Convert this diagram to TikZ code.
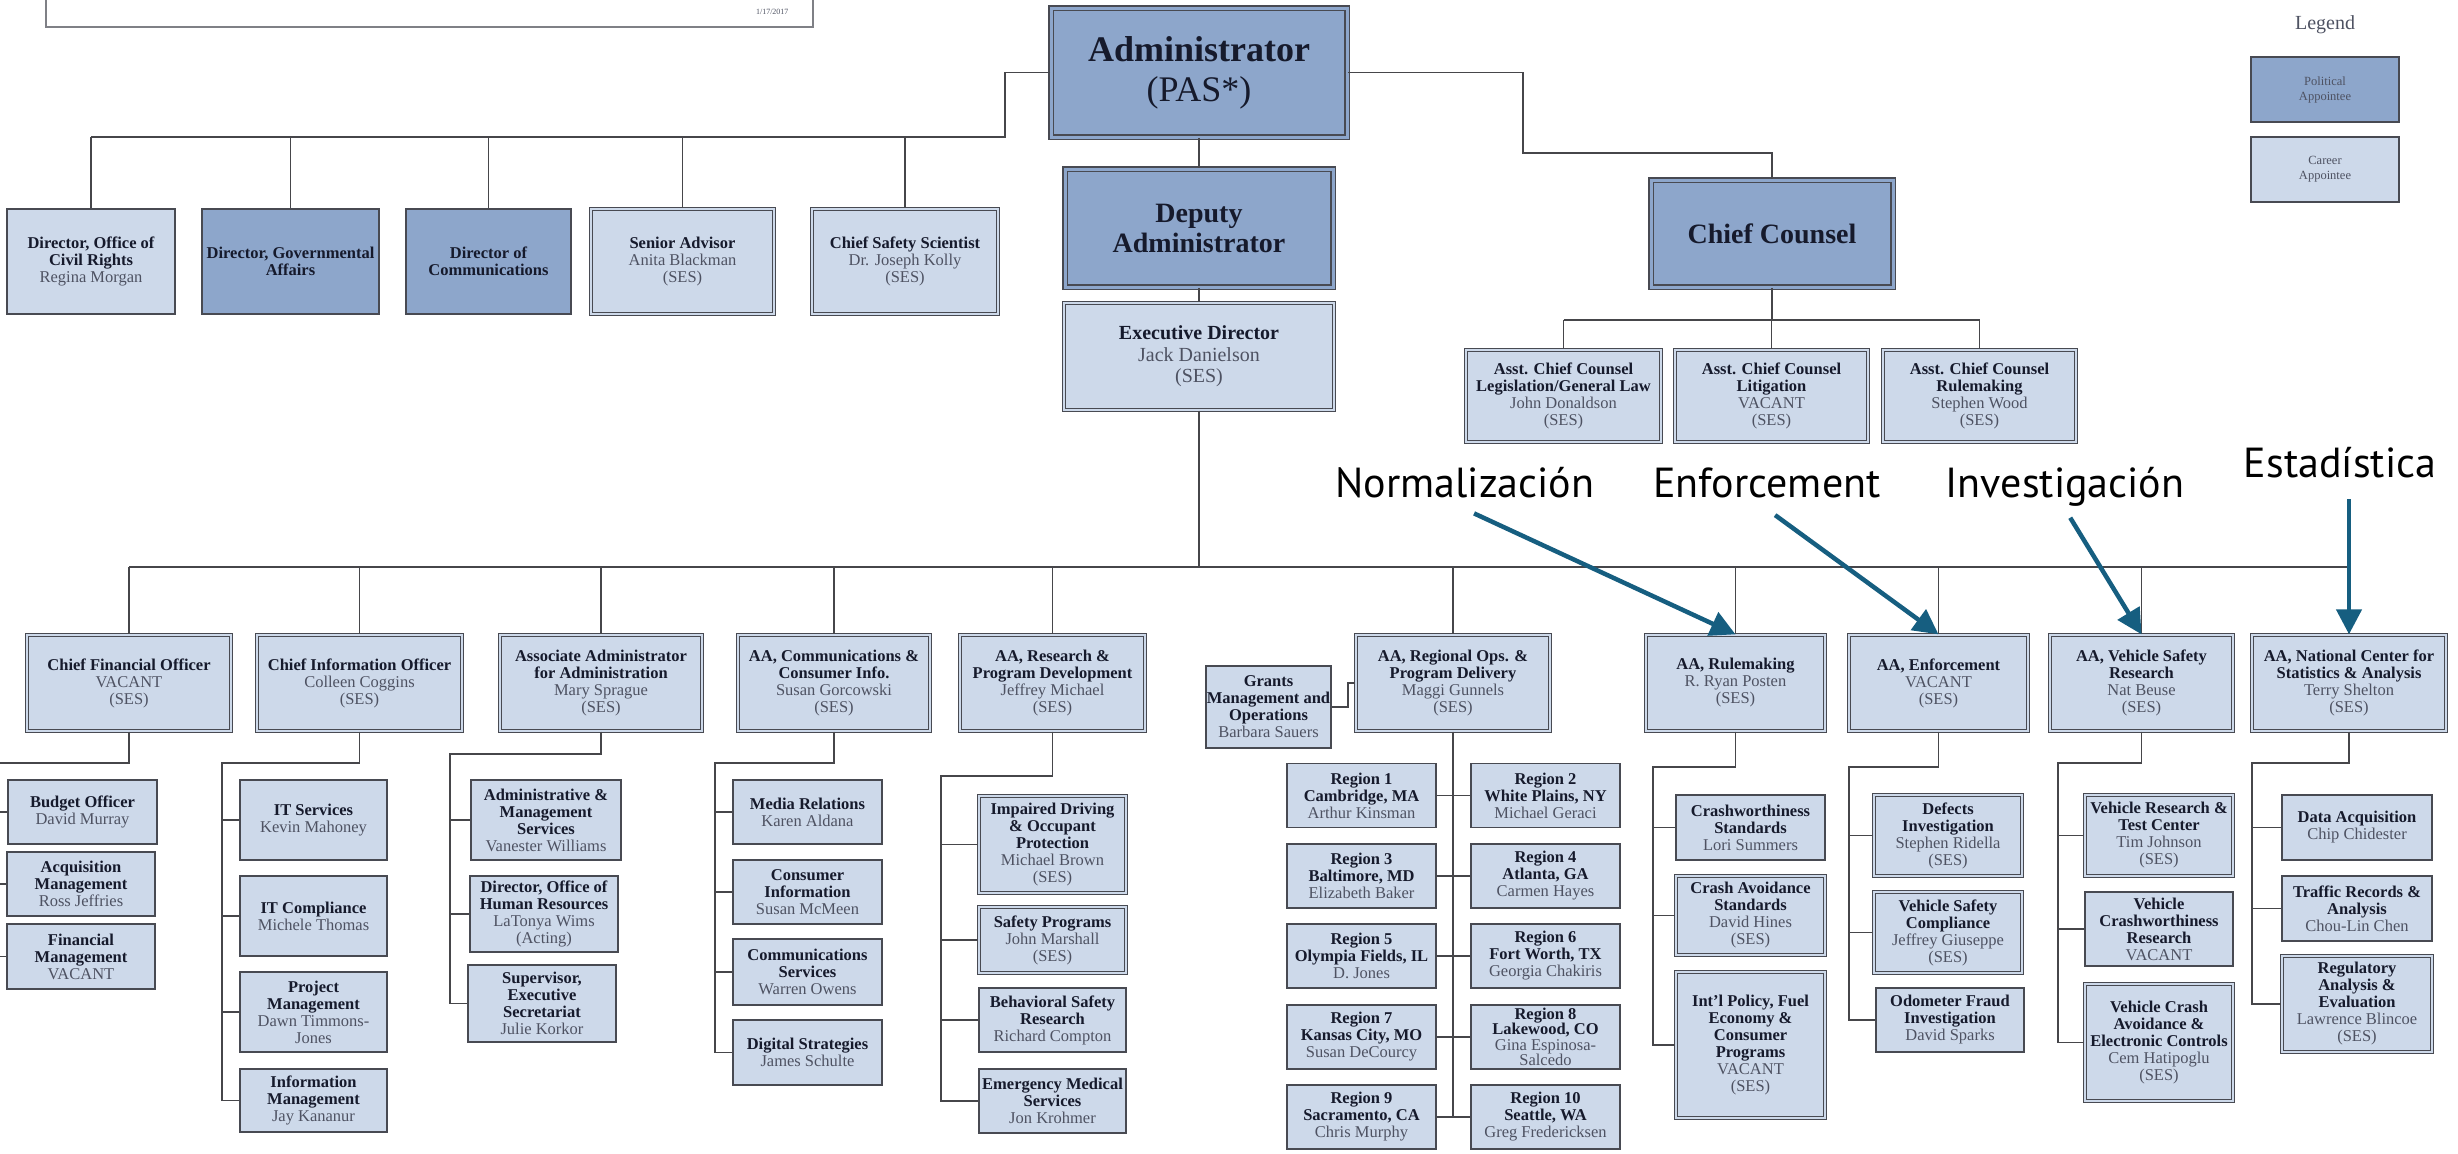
\documentclass[tikz,border=0pt]{standalone}
\usepackage{fontspec}
\setmainfont{Liberation Serif}
\newfontfamily\notefont{PT Sans}
\usetikzlibrary{arrows.meta,calc,positioning}
\definecolor{politfill}{RGB}{141,166,203}
\definecolor{careerfill}{RGB}{205,217,234}
\definecolor{boxedge}{RGB}{72,74,82}
\definecolor{titlecol}{RGB}{22,26,44}
\definecolor{namecol}{RGB}{78,82,98}
\definecolor{linecol}{RGB}{70,70,74}
\definecolor{notearrow}{RGB}{22,94,128}
\newcommand{\nm}[1]{{\mdseries\color{namecol}#1}}
\tikzstyle{orgbox}=[rectangle, inner sep=0pt, align=center, text=titlecol, font=\fontsize{16.5}{17}\selectfont\bfseries]
\tikzstyle{career}=[orgbox, fill=careerfill, draw=boxedge, line width=1.6pt]
\tikzstyle{ses}=[orgbox, fill=careerfill, draw=boxedge, line width=1.3pt, double=careerfill, double distance=1.8pt]
\tikzstyle{political}=[orgbox, fill=politfill, draw=boxedge, line width=1.6pt]
\tikzstyle{politicaltop}=[orgbox, fill=politfill, draw=boxedge, line width=1.6pt, double=politfill, double distance=3pt]
\tikzstyle{orgline}=[linecol, line width=1.8pt]
\tikzstyle{note}=[font=\notefont\fontsize{42}{44}\selectfont, text=black, inner sep=3pt, text depth=9pt, anchor=base]
\tikzstyle{notearr}=[-{Triangle[length=25pt,width=25pt]}, notearrow, line width=4.5pt, shorten <=10pt]
\tikzset{sz/.style 2 args={minimum width=#1pt, minimum height=#2pt}}

\begin{document}
\begin{tikzpicture}[x=1pt, y=-1pt]
\def\aay{683}
\def\aah{96}
\useasboundingbox (0,0) rectangle (2458,1154);
\clip (0,0) rectangle (2458,1154);

% frame cut at the top left
\draw[boxedge!70, line width=1.5pt, fill=white] (46,-20) rectangle (813,27);
\node[font=\fontsize{8}{9}\selectfont, text=namecol, anchor=east] (stamp) at (792,12) {1/17/2017};

% Front office
\node[politicaltop, sz={296}{129}, font=\fontsize{36}{40}\selectfont\bfseries] (admin) at (1199,72.5) {Administrator\\{\mdseries (PAS*)}};
\node[politicaltop, sz={268}{118}, font=\fontsize{28}{30}\selectfont\bfseries] (deputy) at (1199,228) {Deputy\\Administrator};
\node[ses, sz={270}{107}, font=\fontsize{20}{21.5}\selectfont\bfseries] (exec) at (1199,356.5) {Executive Director\\\nm{Jack Danielson}\\\nm{(SES)}};
\node[politicaltop, sz={242}{107}, font=\fontsize{28}{30}\selectfont\bfseries] (counsel) at (1772,233.5) {Chief Counsel};

\node[career, sz={168}{105}] (crights) at (91,261.5) {Director, Office of\\Civil Rights\\\nm{Regina Morgan}};
\node[political, sz={177}{105}] (govaff) at (290.5,261.5) {Director, Governmental\\Affairs};
\node[political, sz={165}{105}] (dircomm) at (488.5,261.5) {Director of\\Communications};
\node[ses, sz={183}{105}] (sradv) at (682.5,261.5) {Senior Advisor\\\nm{Anita Blackman}\\\nm{(SES)}};
\node[ses, sz={186}{105}] (safesci) at (905,261.5) {Chief Safety Scientist\\\nm{Dr. Joseph Kolly}\\\nm{(SES)}};

\node[ses, sz={195}{92}] (acc1) at (1563.5,396) {Asst. Chief Counsel\\Legislation/General Law\\\nm{John Donaldson}\\\nm{(SES)}};
\node[ses, sz={193}{92}] (acc2) at (1771.5,396) {Asst. Chief Counsel\\Litigation\\\nm{VACANT}\\\nm{(SES)}};
\node[ses, sz={193}{92}] (acc3) at (1979.5,396) {Asst. Chief Counsel\\Rulemaking\\\nm{Stephen Wood}\\\nm{(SES)}};

% Legend
\node[font=\fontsize{20}{22}\selectfont, text=namecol] (legend) at (2325,25) {Legend};
\node[political, sz={148}{65}, font=\fontsize{12.5}{15}\selectfont, text=namecol] (legpol) at (2325,89.5) {Political\\Appointee};
\node[career, sz={148}{65}, font=\fontsize{12.5}{15}\selectfont, text=namecol] (legcar) at (2325,169.5) {Career\\Appointee};

% Associate administrators
\node[ses, sz={204}{\aah}] (cfo) at (129,\aay) {Chief Financial Officer\\\nm{VACANT}\\\nm{(SES)}};
\node[ses, sz={205}{\aah}] (cio) at (359.5,\aay) {Chief Information Officer\\\nm{Colleen Coggins}\\\nm{(SES)}};
\node[ses, sz={202}{\aah}] (assoc) at (601,\aay) {Associate Administrator\\for Administration\\\nm{Mary Sprague}\\\nm{(SES)}};
\node[ses, sz={192}{\aah}] (comm) at (834,\aay) {AA, Communications \&\\Consumer Info.\\\nm{Susan Gorcowski}\\\nm{(SES)}};
\node[ses, sz={185}{\aah}] (research) at (1052.5,\aay) {AA, Research \&\\Program Development\\\nm{Jeffrey Michael}\\\nm{(SES)}};
\node[ses, sz={194}{\aah}] (regional) at (1453,\aay) {AA, Regional Ops. \&\\Program Delivery\\\nm{Maggi Gunnels}\\\nm{(SES)}};
\node[ses, sz={179}{\aah}] (rulemk) at (1735.5,\aay) {AA, Rulemaking\\\nm{R. Ryan Posten}\\\nm{(SES)}};
\node[ses, sz={179}{\aah}] (enforce) at (1938.5,\aay) {AA, Enforcement\\\nm{VACANT}\\\nm{(SES)}};
\node[ses, sz={183}{\aah}] (vsr) at (2141.5,\aay) {AA, Vehicle Safety\\Research\\\nm{Nat Beuse}\\\nm{(SES)}};
\node[ses, sz={194}{\aah}] (ncsa) at (2349,\aay) {AA, National Center for\\Statistics \& Analysis\\\nm{Terry Shelton}\\\nm{(SES)}};
\node[career, sz={125}{82}] (grants) at (1268.5,707) {Grants\\Management and\\Operations\\\nm{Barbara Sauers}};

% Offices under each AA
\node[career, sz={149}{64}] (cfo1) at (82.5,812) {Budget Officer\\\nm{David Murray}};
\node[career, sz={148}{64}] (cfo2) at (81,884) {Acquisition\\Management\\\nm{Ross Jeffries}};
\node[career, sz={148}{65}] (cfo3) at (81,956.5) {Financial\\Management\\\nm{VACANT}};

\node[career, sz={147}{80}] (cio1) at (313.5,820) {IT Services\\\nm{Kevin Mahoney}};
\node[career, sz={147}{80}] (cio2) at (313.5,916) {IT Compliance\\\nm{Michele Thomas}};
\node[career, sz={147}{80}] (cio3) at (313.5,1012) {Project\\Management\\\nm{Dawn Timmons-}\\\nm{Jones}};
\node[career, sz={147}{63}] (cio4) at (313.5,1100.5) {Information\\Management\\\nm{Jay Kananur}};

\node[career, sz={150}{80}] (assoc1) at (546,820) {Administrative \&\\Management\\Services\\\nm{Vanester Williams}};
\node[career, sz={148}{76}] (assoc2) at (544,914) {Director, Office of\\Human Resources\\\nm{LaTonya Wims}\\\nm{(Acting)}};
\node[career, sz={148}{77}] (assoc3) at (542,1003.5) {Supervisor,\\Executive\\Secretariat\\\nm{Julie Korkor}};

\node[career, sz={149}{64}] (comm1) at (807.5,812) {Media Relations\\\nm{Karen Aldana}};
\node[career, sz={149}{64}] (comm2) at (807.5,892) {Consumer\\Information\\\nm{Susan McMeen}};
\node[career, sz={149}{66}] (comm3) at (807.5,972) {Communications\\Services\\\nm{Warren Owens}};
\node[career, sz={149}{65}] (comm4) at (807.5,1052.5) {Digital Strategies\\\nm{James Schulte}};

\node[ses, sz={147}{97}] (res1) at (1052.5,844.5) {Impaired Driving\\\& Occupant\\Protection\\\nm{Michael Brown}\\\nm{(SES)}};
\node[ses, sz={147}{66}] (res2) at (1052.5,940) {Safety Programs\\\nm{John Marshall}\\\nm{(SES)}};
\node[career, sz={147}{64}] (res3) at (1052.5,1020) {Behavioral Safety\\Research\\\nm{Richard Compton}};
\node[career, sz={147}{64}] (res4) at (1052.5,1101) {Emergency Medical\\Services\\\nm{Jon Krohmer}};

\node[career, sz={149}{64}] (reg1) at (1361.5,795.5) {Region 1\\Cambridge, MA\\\nm{Arthur Kinsman}};
\node[career, sz={149}{64}] (reg2) at (1545.5,795.5) {Region 2\\White Plains, NY\\\nm{Michael Geraci}};
\node[career, sz={149}{64}] (reg3) at (1361.5,876) {Region 3\\Baltimore, MD\\\nm{Elizabeth Baker}};
\node[career, sz={149}{64}] (reg4) at (1545.5,876) {Region 4\\Atlanta, GA\\\nm{Carmen Hayes}};
\node[career, sz={149}{64}] (reg5) at (1361.5,956) {Region 5\\Olympia Fields, IL\\\nm{D. Jones}};
\node[career, sz={149}{64}] (reg6) at (1545.5,956) {Region 6\\Fort Worth, TX\\\nm{Georgia Chakiris}};
\node[career, sz={149}{64}] (reg7) at (1361.5,1037) {Region 7\\Kansas City, MO\\\nm{Susan DeCourcy}};
\node[career, sz={149}{64}, font=\fontsize{16.5}{15.5}\selectfont\bfseries] (reg8) at (1545.5,1037) {Region 8\\Lakewood, CO\\\nm{Gina Espinosa-}\\\nm{Salcedo}};
\node[career, sz={149}{64}] (reg9) at (1361.5,1117) {Region 9\\Sacramento, CA\\\nm{Chris Murphy}};
\node[career, sz={149}{64}] (reg10) at (1545.5,1117) {Region 10\\Seattle, WA\\\nm{Greg Fredericksen}};

\node[career, sz={149}{65}] (rule1) at (1750.5,827.5) {Crashworthiness\\Standards\\\nm{Lori Summers}};
\node[ses, sz={149}{79}] (rule2) at (1750.5,915.5) {Crash Avoidance\\Standards\\\nm{David Hines}\\\nm{(SES)}};
\node[ses, sz={149}{146}] (rule3) at (1750.5,1045) {Int'l Policy, Fuel\\Economy \&\\Consumer\\Programs\\\nm{VACANT}\\\nm{(SES)}};

\node[ses, sz={148}{81}] (enf1) at (1948,835.5) {Defects\\Investigation\\\nm{Stephen Ridella}\\\nm{(SES)}};
\node[ses, sz={148}{81}] (enf2) at (1948,932.5) {Vehicle Safety\\Compliance\\\nm{Jeffrey Giuseppe}\\\nm{(SES)}};
\node[career, sz={148}{64}] (enf3) at (1950,1020) {Odometer Fraud\\Investigation\\\nm{David Sparks}};

\node[ses, sz={148}{81}] (vsr1) at (2159,835.5) {Vehicle Research \&\\Test Center\\\nm{Tim Johnson}\\\nm{(SES)}};
\node[career, sz={148}{74}] (vsr2) at (2159,929) {Vehicle\\Crashworthiness\\Research\\\nm{VACANT}};
\node[ses, sz={148}{117}] (vsr3) at (2159,1042.5) {Vehicle Crash\\Avoidance \&\\Electronic Controls\\\nm{Cem Hatipoglu}\\\nm{(SES)}};

\node[career, sz={150}{65}] (ncsa1) at (2357,827.5) {Data Acquisition\\\nm{Chip Chidester}};
\node[career, sz={150}{65}] (ncsa2) at (2357,908.5) {Traffic Records \&\\Analysis\\\nm{Chou-Lin Chen}};
\node[ses, sz={150}{96}] (ncsa3) at (2357,1004) {Regulatory\\Analysis \&\\Evaluation\\\nm{Lawrence Blincoe}\\\nm{(SES)}};

% Connectors of the upper part
\coordinate (topbar) at (1005,137);
\draw[orgline] (admin.west) -| (topbar) -- (topbar -| crights.north);
\foreach \b in {crights,govaff,dircomm,sradv,safesci}
    \draw[orgline] (topbar -| \b.north) -- (\b.north);
\draw[orgline] (admin) -- (deputy);
\draw[orgline] (deputy) -- (exec);
\coordinate (ccbend) at (1523,153);
\draw[orgline] (admin.east) -| (ccbend) -| (counsel.north);
\coordinate (ccbar) at (1772,320);
\draw[orgline] (counsel.south) -- (ccbar);
\draw[orgline] (ccbar -| acc1.north) -- (ccbar -| acc3.north);
\foreach \b in {acc1,acc2,acc3}
    \draw[orgline] (ccbar -| \b.north) -- (\b.north);

\coordinate (mainbar) at (1199,567);
\draw[orgline] (exec.south) -- (mainbar);
\draw[orgline] (mainbar -| cfo.north) -- (mainbar -| ncsa.north);
\foreach \b in {cfo,cio,assoc,comm,research,regional,rulemk,enforce,vsr,ncsa}
    \draw[orgline] (mainbar -| \b.north) -- (\b.north);

% Connectors of the lower part
\foreach \p/\tx/\ty/\last/\kids in {cfo/-4/763/cfo3/{cfo1,cfo2,cfo3}, cio/222/763/cio4/{cio1,cio2,cio3,cio4}, assoc/450/754/assoc3/{assoc1,assoc2,assoc3}, comm/715/763/comm4/{comm1,comm2,comm3,comm4}, research/941/776/res4/{res1,res2,res3,res4}, rulemk/1653/767/rule3/{rule1,rule2,rule3}, enforce/1849/767/enf3/{enf1,enf2,enf3}, vsr/2058/763/vsr3/{vsr1,vsr2,vsr3}, ncsa/2252/763/ncsa3/{ncsa1,ncsa2,ncsa3}}{
    \coordinate (\p T) at (\tx,\ty);
    \draw[orgline] (\p.south) |- (\p T) |- (\last.west);
    \foreach \c in \kids
        \draw[orgline] (\p T |- \c.west) -- (\c.west);
}
\draw[orgline] (regional.south) -- (regional.south |- reg9.east);
\foreach \a/\b in {reg1/reg2,reg3/reg4,reg5/reg6,reg7/reg8,reg9/reg10}
    \draw[orgline] (\a.east) -- (\b.west);
\draw[orgline] (grants.east) -- ++(16,0) |- (regional.west);

% Notes with arrows
\node[note] (nnorm) at (1465,497) {Normalización};
\node[note] (nenf) at (1767,497) {Enforcement};
\node[note] (ninv) at (2065,497) {Investigación};
\node[note] (nstat) at (2340,477) {Estadística};
\draw[notearr] (nnorm.south) -- (rulemk.north);
\draw[notearr] (nenf.south) -- (enforce.north);
\draw[notearr] (ninv.south) -- (vsr.north);
\draw[notearr] (nstat.south -| ncsa.north) -- (ncsa.north);
\end{tikzpicture}
\end{document}
